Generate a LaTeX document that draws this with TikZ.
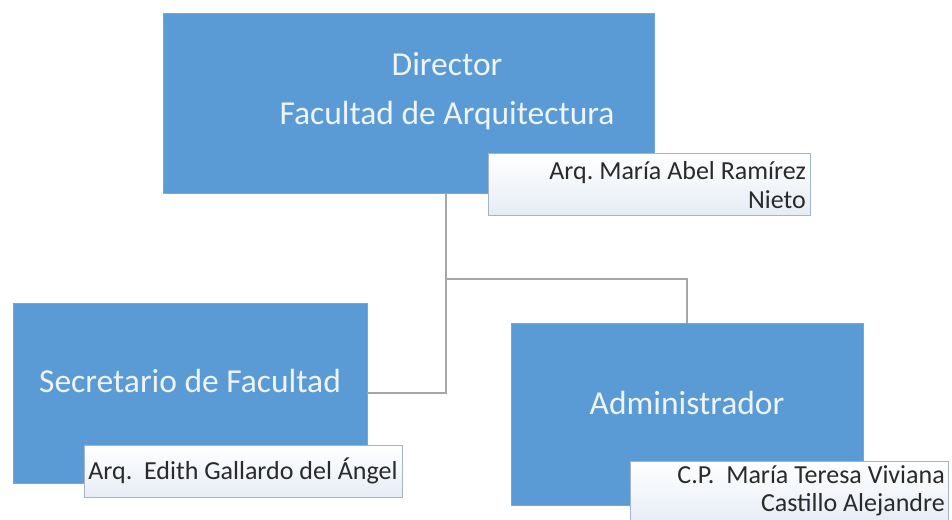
\documentclass[tikz,border=0pt]{standalone}
\usepackage{fontspec}
\setmainfont{Carlito}
\definecolor{boxblue}{HTML}{5B9BD5}
\definecolor{boxedge}{HTML}{6FA8DC}
\definecolor{boxtext}{HTML}{EEF4FB}
\definecolor{tabedge}{HTML}{A3B4CC}
\definecolor{tabbot}{HTML}{E6ECF5}
\definecolor{nametext}{HTML}{2A2A2A}
\definecolor{conncol}{HTML}{A6A6A6}
\begin{document}
\frenchspacing
\begin{tikzpicture}[x=1pt,y=-1pt,
  rolebox/.style={draw=boxedge,line width=0.8pt,fill=boxblue,rectangle,inner sep=0pt},
  roletext/.style={text=boxtext,font=\fontsize{33.5}{49}\selectfont,align=center,inner sep=0pt},
  tab/.style={draw=tabedge,line width=1pt,top color=white,bottom color=tabbot,rectangle,inner sep=0pt,anchor=north west},
  nametxt/.style={text=nametext,font=\fontsize{26}{28.5}\selectfont,align=right,inner sep=0pt},
  conn/.style={draw=conncol,line width=1.6pt}]
\useasboundingbox (0,0) rectangle (952,519);
% boxes
\node[rolebox,minimum width=491pt,minimum height=180pt] (dir) at (408.5,103) {};
\node[rolebox,minimum width=354pt,minimum height=180pt] (sec) at (190,393) {};
\node[rolebox,minimum width=352pt,minimum height=182pt] (adm) at (687,414) {};
% connectors
\coordinate (j) at (446,279);
\draw[conn] (dir.south -| j) -- (j |- sec.east) -- (sec.east);
\draw[conn] (j) -- (j -| adm.north) -- (adm.north);
% role texts
\node[roletext] (dirt) at (447,91) {Director\\Facultad de Arquitectura};
\node[roletext] (sect) at (190,381) {Secretario de Facultad};
\node[roletext] (admt) at (687,403) {Administrador};
% name tabs
\node[tab,minimum width=322pt,minimum height=62pt] (dirn) at (488,153) {};
\node[nametxt,anchor=east] at (806,185) {Arq. María Abel Ramírez\\Nieto};
\node[tab,minimum width=318pt,minimum height=52pt] (secn) at (84,445) {};
\node[nametxt,anchor=center] at (243,471) {Arq.\ \ Edith Gallardo del Ángel};
\node[tab,minimum width=318pt,minimum height=62pt] (admn) at (630,461) {};
\node[nametxt,anchor=east] at (945,491) {C.P.\ \ María Teresa Viviana\\Castillo Alejandre};
\end{tikzpicture}
\end{document}
